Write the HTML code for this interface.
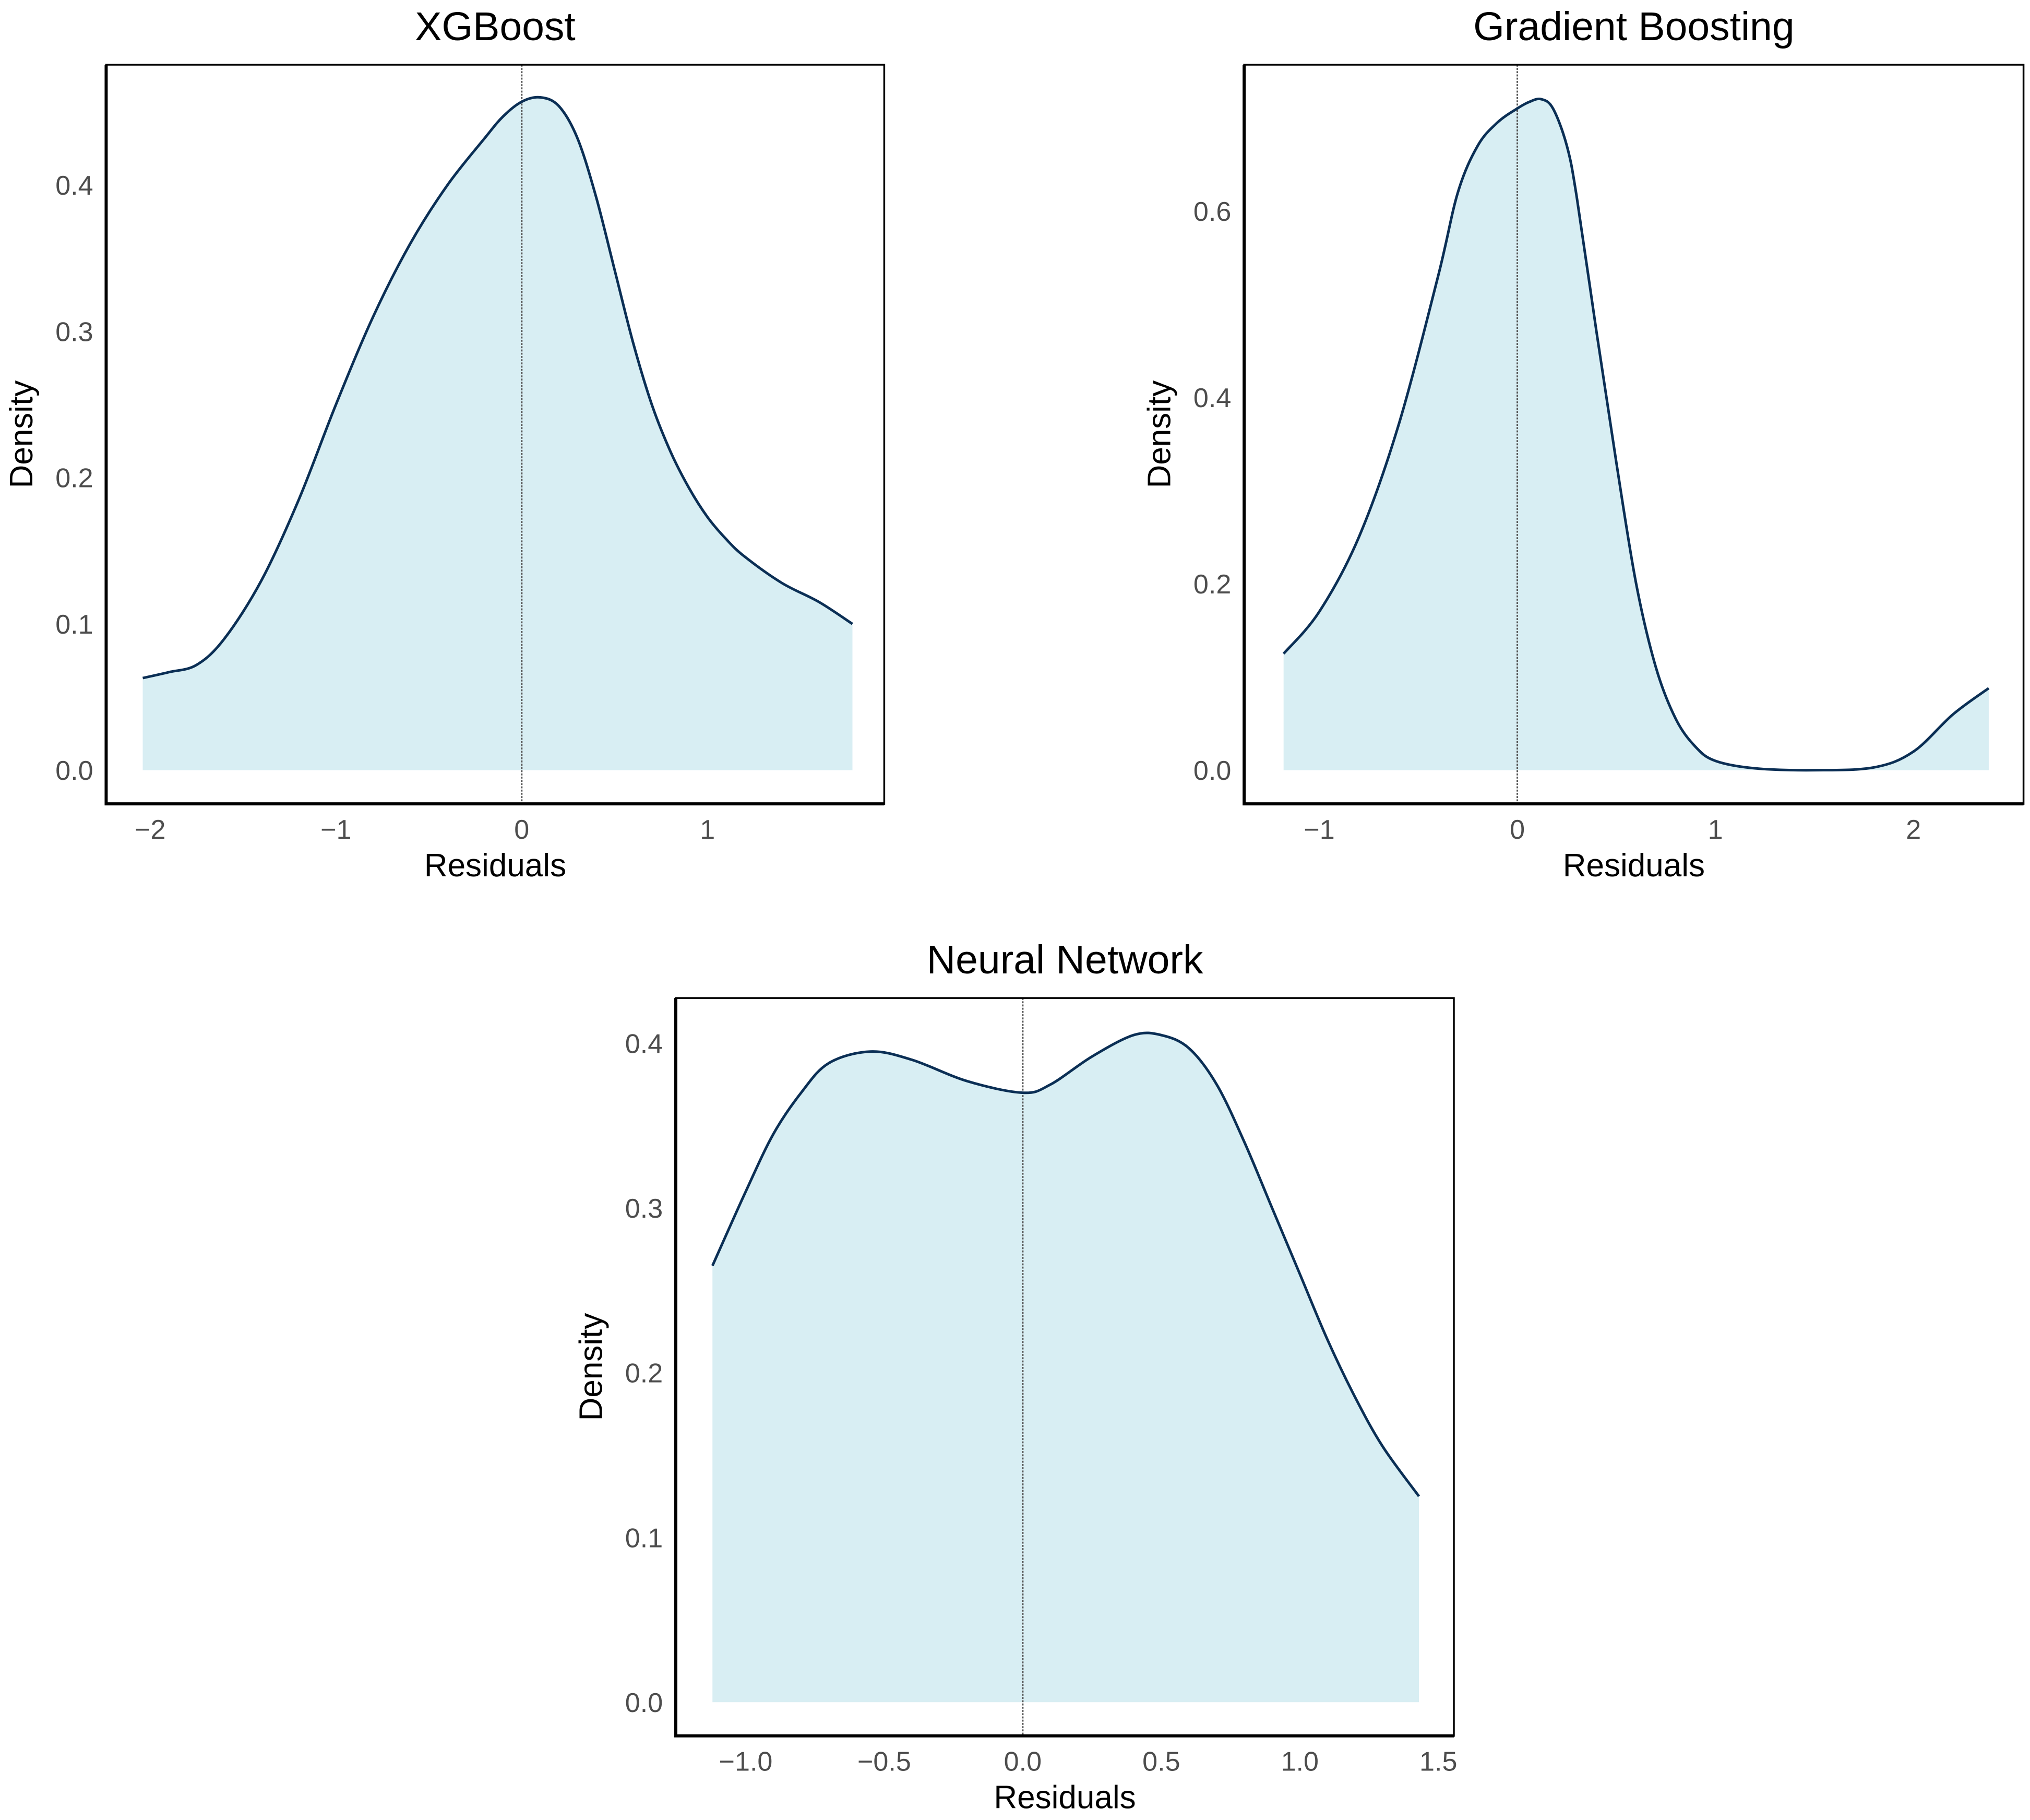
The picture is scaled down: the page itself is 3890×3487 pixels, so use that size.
<!DOCTYPE html>
<html><head><meta charset="utf-8"><style>
html,body{margin:0;padding:0;background:#fff}
svg{display:block}
text{font-family:"Liberation Sans",sans-serif}
</style></head><body>
<svg id="chart" width="3890" height="3487" viewBox="0 0 1568 1406" preserveAspectRatio="none" xmlns="http://www.w3.org/2000/svg"></svg>
<script>
const xgbX = [-2.04,-1.9,-1.75,-1.6,-1.4,-1.2,-1.0,-0.8,-0.6,-0.4,-0.2,-0.1,0,0.1,0.2,0.3,0.4,0.5,0.6,0.7,0.8,0.9,1.0,1.1,1.2,1.4,1.6,1.78];
const xgbY = [0.063,0.067,0.072,0.09,0.13,0.185,0.25,0.31,0.36,0.40,0.432,0.447,0.457,0.46,0.454,0.432,0.392,0.342,0.292,0.25,0.218,0.193,0.173,0.158,0.146,0.128,0.115,0.1];
const gbX = [-1.18,-1.0,-0.8,-0.6,-0.4,-0.3,-0.2,-0.1,0,0.06,0.12,0.18,0.25,0.3,0.4,0.5,0.6,0.7,0.8,0.9,1.0,1.2,1.5,1.8,2.0,2.2,2.38];
const gbY = [0.125,0.17,0.25,0.37,0.53,0.62,0.67,0.695,0.71,0.717,0.72,0.71,0.67,0.615,0.47,0.33,0.2,0.11,0.055,0.025,0.01,0.002,0.0,0.003,0.02,0.06,0.088];
const nnX = [-1.12,-1.0,-0.9,-0.8,-0.7,-0.55,-0.4,-0.2,0,0.1,0.25,0.4,0.5,0.6,0.7,0.8,0.9,1.0,1.1,1.2,1.3,1.43];
const nnY = [0.265,0.31,0.345,0.37,0.388,0.395,0.39,0.377,0.37,0.375,0.392,0.405,0.405,0.397,0.375,0.34,0.3,0.26,0.22,0.185,0.155,0.125];
const xgbXTicks = [-2,-1,0,1], xgbXLabels = ["\u22122","\u22121","0","1"];
const xgbYTicks = [0,0.1,0.2,0.3,0.4], xgbYLabels = ["0.0","0.1","0.2","0.3","0.4"];
const gbXTicks = [-1,0,1,2], gbXLabels = ["\u22121","0","1","2"];
const gbYTicks = [0,0.2,0.4,0.6], gbYLabels = ["0.0","0.2","0.4","0.6"];
const nnXTicks = [-1,-0.5,0,0.5,1,1.5], nnXLabels = ["\u22121.0","\u22120.5","0.0","0.5","1.0","1.5"];
const nnYTicks = [0,0.1,0.2,0.3,0.4], nnYLabels = ["0.0","0.1","0.2","0.3","0.4"];

const NS="http://www.w3.org/2000/svg";
const svg=document.getElementById('chart');
function mk(tag,attrs,parent){const e=document.createElementNS(NS,tag);for(const k in attrs)e.setAttribute(k,attrs[k]);(parent||svg).appendChild(e);return e;}
function smooth(pts){let d='M'+pts[0][0]+','+pts[0][1];for(let i=0;i<pts.length-1;i++){const p0=pts[i-1]||pts[i],p1=pts[i],p2=pts[i+1],p3=pts[i+2]||p2;
const c1x=p1[0]+(p2[0]-p0[0])/6,c1y=p1[1]+(p2[1]-p0[1])/6,c2x=p2[0]-(p3[0]-p1[0])/6,c2y=p2[1]-(p3[1]-p1[1])/6;
d+=' C'+c1x+','+c1y+' '+c2x+','+c2y+' '+p2[0]+','+p2[1];}return d;}

function panel(cfg){
  const g=mk('g',{});
  
  
  const sx=v=>cfg.x0px+(v-cfg.x0v)*cfg.xs, sy=v=>cfg.y0px-v*cfg.ys;
  const pts=cfg.xs_.map((x,i)=>[sx(x),sy(cfg.ys_[i])]);
  const line=smooth(pts);
  const area=mk('path',{d:line+' L'+pts[pts.length-1][0]+','+sy(0)+' L'+pts[0][0]+','+sy(0)+' Z',fill:'#d8eef3',stroke:'none'},g);
  
  
  const zl=mk('line',{x1:sx(0),x2:sx(0),y1:cfg.top,y2:cfg.bottom,stroke:'#555',"stroke-width":1.2,"stroke-dasharray":"1.5,1"},g);
  
  
  const cur=mk('path',{d:line,fill:'none',stroke:'#0b2f55',"stroke-width":2},g);
  
  
  const box=mk('rect',{x:cfg.left,y:cfg.top,width:cfg.right-cfg.left,height:cfg.bottom-cfg.top,fill:'none',stroke:'#000',"stroke-width":1.4},g);
  
  
  const ax=mk('path',{d:'M'+cfg.left+','+cfg.top+' L'+cfg.left+','+cfg.bottom+' L'+cfg.right+','+cfg.bottom,fill:'none',stroke:'#000',"stroke-width":2.4},g);
  
  
  cfg.xt.forEach((v,i)=>{const t=mk('text',{x:sx(v),y:cfg.bottom+27,"text-anchor":"middle","font-size":21,fill:'#4d4d4d'},g);t.textContent=cfg.xl[i];
    
    });
  cfg.yt.forEach((v,i)=>{const t=mk('text',{x:cfg.left-10,y:sy(v)+7.5,"text-anchor":"end","font-size":21,fill:'#4d4d4d'},g);t.textContent=cfg.yl[i];
    
    });
  const cx=(cfg.left+cfg.right)/2;
  const tt=mk('text',{x:cx,y:cfg.top-19,"text-anchor":"middle","font-size":31,fill:'#000'},g);tt.textContent=cfg.title;
  
  
  const xt=mk('text',{x:cx,y:cfg.bottom+56,"text-anchor":"middle","font-size":25,fill:'#000'},g);xt.textContent='Residuals';
  
  
  const my=(cfg.top+cfg.bottom)/2;
  const yt=mk('text',{x:cfg.left-57,y:my,"text-anchor":"middle","font-size":25,fill:'#000',transform:'rotate(-90 '+(cfg.left-57)+' '+my+')'},g);yt.textContent='Density';
  
  
}
panel({name:'xgboost',title:'XGBoost',left:82,right:683,top:50,bottom:621,x0px:403,x0v:0,xs:143.5,y0px:595,ys:1130,xs_:xgbX,ys_:xgbY,xt:xgbXTicks,xl:xgbXLabels,yt:xgbYTicks,yl:xgbYLabels});
panel({name:'gradient-boosting',title:'Gradient Boosting',left:961,right:1563,top:50,bottom:621,x0px:1172,x0v:0,xs:153,y0px:595,ys:720,xs_:gbX,ys_:gbY,xt:gbXTicks,xl:gbXLabels,yt:gbYTicks,yl:gbYLabels});
panel({name:'neural-network',title:'Neural Network',left:522,right:1123,top:771,bottom:1341,x0px:790,x0v:0,xs:214,y0px:1315,ys:1272.5,xs_:nnX,ys_:nnY,xt:nnXTicks,xl:nnXLabels,yt:nnYTicks,yl:nnYLabels});
</script>
</body></html>
